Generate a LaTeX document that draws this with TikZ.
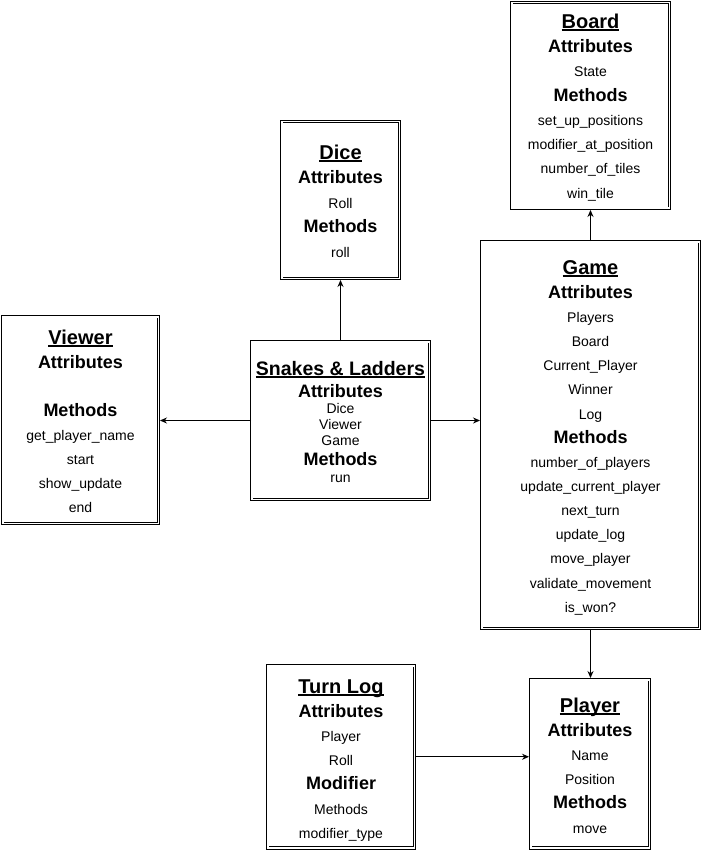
\documentclass[tikz,border=0pt]{standalone}
\usepackage{fontspec}
\setmainfont{Liberation Sans}
\usetikzlibrary{arrows.meta}
\newcommand\uline[1]{\setbox0=\hbox{#1}\rlap{\rule[-2.6pt]{\wd0}{1.3pt}}\box0}
\newcommand\classtext[5]{%
  \foreach \s/\t [count=\i] in {#5}
    \node[\s] (#1-\i) at (#2,{#3+#4*\i-#4}) {\t};}
\begin{document}
\begin{tikzpicture}[x=1pt,y=-1pt,
  cls/.style={draw, double, double distance=1.6pt, line width=0.95pt, inner sep=0pt, rectangle},
  ttl/.style={anchor=mid, yshift=-4.5pt, inner sep=0pt, font=\fontsize{20}{24}\selectfont\bfseries},
  hdr/.style={anchor=mid, yshift=-4.5pt, inner sep=0pt, font=\fontsize{18}{22}\selectfont\bfseries},
  itm/.style={anchor=mid, yshift=-4.5pt, inner sep=0pt, font=\fontsize{14}{16}\selectfont},
  arr/.style={line width=0.95pt, -{Stealth[length=7pt,width=6pt]}, shorten >=1.2pt}]
\useasboundingbox (0,0) rectangle (701,850);

% boxes
\node[cls, minimum width=157.6pt, minimum height=205.6pt] (board)   at (590.5,105.5) {};
\node[cls, minimum width=117.6pt, minimum height=156.6pt] (dice)    at (340.5,200) {};
\node[cls, minimum width=155.6pt, minimum height=206.6pt] (viewer)  at (80.5,420) {};
\node[cls, minimum width=177.6pt, minimum height=157.6pt] (snakes)  at (340.5,420.5) {};
\node[cls, minimum width=217.6pt, minimum height=386.6pt] (game)    at (590.5,435) {};
\node[cls, minimum width=146.6pt, minimum height=182.1pt] (turnlog) at (341,756.75) {};
\node[cls, minimum width=118.6pt, minimum height=168.1pt] (player)  at (590,763.75) {};

% texts
\classtext{boardt}{590.5}{21}{24.3}{ttl/\uline{Board}, hdr/Attributes, itm/State, hdr/Methods,
  itm/set\_up\_positions, itm/modifier\_at\_position, itm/number\_of\_tiles, itm/win\_tile}
\classtext{dicet}{340.5}{152}{24.5}{ttl/\uline{Dice}, hdr/Attributes, itm/Roll, hdr/Methods, itm/roll}
\classtext{viewert}{80.5}{337}{24.1}{ttl/\uline{Viewer}, hdr/Attributes}
\classtext{viewerm}{80.5}{409}{24.2}{hdr/Methods, itm/get\_player\_name, itm/start, itm/show\_update, itm/end}
\classtext{gamet}{590.5}{267}{24.15}{ttl/\uline{Game}, hdr/Attributes, itm/Players, itm/Board,
  itm/Current\_Player, itm/Winner, itm/Log, hdr/Methods, itm/number\_of\_players,
  itm/update\_current\_player, itm/next\_turn, itm/update\_log, itm/move\_player,
  itm/validate\_movement, itm/is\_won?}
\classtext{turnlogt}{341}{686}{24.2}{ttl/\uline{Turn Log}, hdr/Attributes, itm/Player, itm/Roll,
  hdr/Modifier, itm/Methods, itm/modifier\_type}
\classtext{playert}{590}{705}{24.2}{ttl/\uline{Player}, hdr/Attributes, itm/Name, itm/Position,
  hdr/Methods, itm/move}

\node[ttl, font=\fontsize{19.5}{24}\selectfont\bfseries] (snakes-1) at (340.5,368) {\uline{Snakes \& Ladders}};
\node[hdr] (snakes-2) at (340.5,390) {Attributes};
\node[itm] (snakes-3) at (340.5,406.5) {Dice};
\node[itm] (snakes-4) at (340.5,422.5) {Viewer};
\node[itm] (snakes-5) at (340.5,438.5) {Game};
\node[hdr] (snakes-6) at (340.5,458) {Methods};
\node[itm] (snakes-7) at (340.5,475.5) {run};

% connectors
\draw[arr] (snakes.west) -- (snakes.west -| viewer.east);
\draw[arr] (snakes.east) -- (snakes.east -| game.west);
\draw[arr] (snakes.north) -- (snakes.north |- dice.south);
\draw[arr] (game.north) -- (game.north |- board.south);
\draw[arr] (game.south) -- (game.south |- player.north);
\draw[arr] (turnlog.east) -- (turnlog.east -| player.west);
\end{tikzpicture}
\end{document}
